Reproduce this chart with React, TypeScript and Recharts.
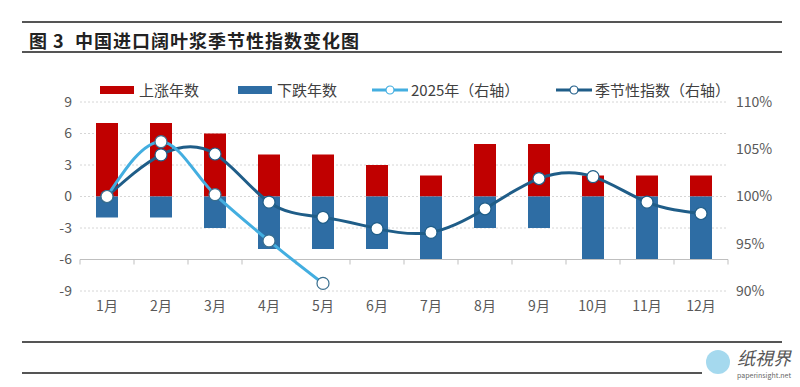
import React from "react"
import { ComposedChart, Bar, Line, XAxis, YAxis, CartesianGrid, ReferenceLine } from "recharts"

// categories and values
const months = ["1月", "2月", "3月", "4月", "5月", "6月", "7月", "8月", "9月", "10月", "11月", "12月"]
const upYears = [7, 7, 6, 4, 4, 3, 2, 5, 5, 2, 2, 2]
const downYears = [-2, -2, -3, -5, -5, -5, -6, -3, -3, -6, -6, -6]
const index2025 = [100, 105.8, 100.2, 95.3, 90.8]
const seasonalIndex = [100, 104.4, 104.5, 99.4, 97.8, 96.6, 96.2, 98.7, 101.9, 102.1, 99.4, 98.2]
const leftTicks = [-9, -6, -3, 0, 3, 6, 9]
const rightTicks = [90, 95, 100, 105, 110]

const RED = "#C00000"
const BLUE = "#2E6DA4"
const LIGHT = "#43AEE0"
const DARK = "#1F5D88"
const FONT = "'Noto Sans CJK SC', 'Noto Sans', sans-serif"

const data = months.map((m, i) => ({
  month: m,
  up: upYears[i],
  down: downYears[i],
  y2025: i < index2025.length ? index2025[i] : null,
  seasonal: seasonalIndex[i],
}))

// x axis line sits at -6 with small ticks between the months
const AxisLineWithTicks = (props: any) => {
  const { x1, x2, y1 } = props
  const n = months.length
  const step = (x2 - x1) / n
  const marks = []
  for (let i = 0; i <= n; i++) {
    const x = x1 + i * step
    marks.push(<line key={i} x1={x} x2={x} y1={y1} y2={y1 + 5} stroke="#bfbfbf" strokeWidth={1} />)
  }
  return (
    <g>
      <line x1={x1} x2={x2} y1={y1} y2={y1} stroke="#bfbfbf" strokeWidth={1.2} />
      {marks}
    </g>
  )
}

const LegendLine = ({ color }: { color: string }) => (
  <svg width={36} height={12} style={{ marginRight: 3 }}>
    <line x1={0} x2={36} y1={6} y2={6} stroke={color} strokeWidth={3} />
    <circle cx={18} cy={6} r={4} fill="#fff" stroke={color} strokeWidth={1.2} />
  </svg>
)

const LegendBox = ({ color }: { color: string }) => (
  <span style={{ display: "inline-block", width: 34, height: 8, background: color, marginRight: 5 }} />
)

const legendItems = [
  { label: "上涨年数", kind: "box", color: RED, left: 100 },
  { label: "下跌年数", kind: "box", color: BLUE, left: 238 },
  { label: "2025年（右轴）", kind: "line", color: LIGHT, left: 372 },
  { label: "季节性指数（右轴）", kind: "line", color: DARK, left: 556 },
]

const rule = (top: number, left: number, width: number) => (
  <div style={{ position: "absolute", top, left, width, height: 2, background: "#555" }} />
)

export default function App() {
  return (
    <div style={{ position: "fixed", left: 0, top: 0, width: 800, height: 387, background: "#fff", fontFamily: FONT, overflow: "hidden" }}>
      {rule(21, 22, 760)}
      <div style={{ position: "absolute", left: 29, top: 27, fontSize: 18, lineHeight: "26px", fontWeight: 700, color: "#222", letterSpacing: 1 }}>
        图 3&nbsp; 中国进口阔叶浆季节性指数变化图
      </div>
      {rule(51, 22, 760)}

      <ComposedChart
        width={800}
        height={387}
        data={data}
        stackOffset="sign"
        margin={{ top: 102, right: 22, bottom: 66, left: 40 }}
        style={{ position: "absolute", left: 0, top: 0 }}
      >
        <CartesianGrid yAxisId="left" vertical={false} stroke="#d6d6d6" strokeDasharray="2 2" />
        <XAxis
          dataKey="month"
          axisLine={false}
          tickLine={false}
          height={30}
          tickMargin={4}
          interval={0}
          tick={{ fill: "#595959", fontSize: 14, fontFamily: FONT }}
        />
        <YAxis
          yAxisId="left"
          domain={[-9, 9]}
          ticks={leftTicks}
          width={40}
          axisLine={false}
          tickLine={false}
          tick={{ fill: "#595959", fontSize: 14, fontFamily: FONT }}
        />
        <YAxis
          yAxisId="right"
          orientation="right"
          domain={[90, 110]}
          ticks={rightTicks}
          width={50}
          axisLine={false}
          tickLine={false}
          tickFormatter={(v: number) => `${v}%`}
          tick={{ fill: "#595959", fontSize: 14, fontFamily: FONT }}
        />
        <ReferenceLine yAxisId="left" y={-6} shape={AxisLineWithTicks} />
        <Bar yAxisId="left" dataKey="up" stackId="a" fill={RED} barSize={22} isAnimationActive={false} />
        <Bar yAxisId="left" dataKey="down" stackId="a" fill={BLUE} barSize={22} isAnimationActive={false} />
        <Line
          yAxisId="right"
          type="natural"
          dataKey="seasonal"
          stroke={DARK}
          strokeWidth={3}
          dot={{ r: 6, fill: "#fff", stroke: DARK, strokeWidth: 1.2 }}
          isAnimationActive={false}
        />
        <Line
          yAxisId="right"
          type="monotone"
          dataKey="y2025"
          stroke={LIGHT}
          strokeWidth={3}
          connectNulls={false}
          dot={{ r: 6, fill: "#fff", stroke: "#3a6f8f", strokeWidth: 1.2 }}
          isAnimationActive={false}
        />
      </ComposedChart>

      {legendItems.map((it) => (
        <div
          key={it.label}
          style={{ position: "absolute", left: it.left, top: 79, display: "flex", alignItems: "center", fontSize: 15, color: "#404040", whiteSpace: "nowrap" }}
        >
          {it.kind === "box" ? <LegendBox color={it.color} /> : <LegendLine color={it.color} />}
          {it.label}
        </div>
      ))}

      {rule(341, 22, 760)}
      {rule(372, 22, 680)}

      <div style={{ position: "absolute", left: 706, top: 350, width: 24, height: 24, borderRadius: "50%", background: "#8fd0ea", opacity: 0.8 }} />
      <div style={{ position: "absolute", left: 737, top: 347, fontSize: 18, lineHeight: "20px", color: "#555", fontStyle: "italic" }}>纸視界</div>
      <div style={{ position: "absolute", left: 737, top: 371, fontSize: 7, lineHeight: "8px", color: "#666" }}>paperinsight.net</div>
    </div>
  )
}
